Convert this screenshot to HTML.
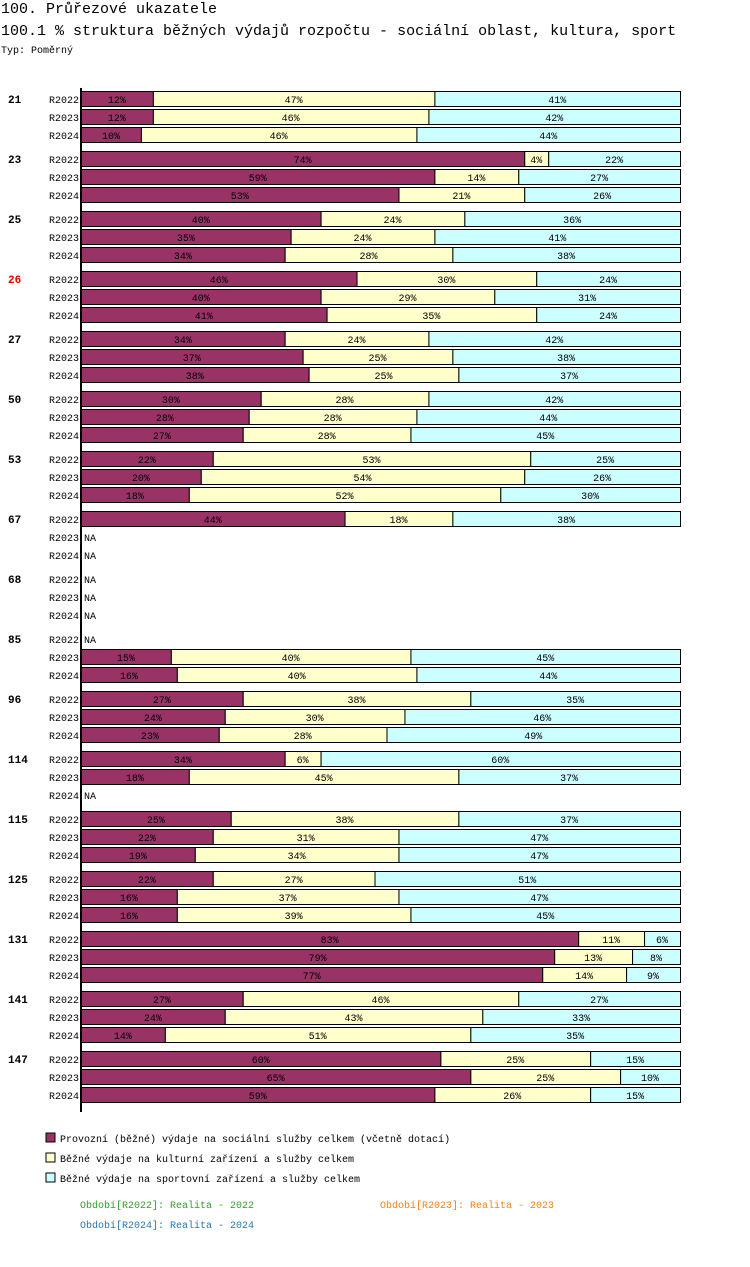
<!DOCTYPE html>
<html><head><meta charset="utf-8"><style>
body{margin:0;background:#fff;width:750px;height:1262px;overflow:hidden;font-family:"Liberation Mono",monospace}
svg text{font-family:"Liberation Mono","DejaVu Sans Mono",monospace}
</style></head><body>
<svg id="c" width="750" height="1262" xmlns="http://www.w3.org/2000/svg">
<text x="1" y="13" font-size="15">100. Průřezové ukazatele</text>
<text x="1" y="35" font-size="15">100.1 % struktura běžných výdajů rozpočtu - sociální oblast, kultura, sport</text>
<text x="1" y="53" font-size="10">Typ: Poměrný</text>
<line x1="81" y1="88" x2="81" y2="1112" stroke="#000" stroke-width="2"/>
<g id="bars"></g>
<rect x="46" y="1133" width="9" height="9" fill="#993366" stroke="#000"/>
<text x="60" y="1142" font-size="10">Provozní (běžné) výdaje na sociální služby celkem (včetně dotací)</text>
<rect x="46" y="1153" width="9" height="9" fill="#FFFFCC" stroke="#000"/>
<text x="60" y="1162" font-size="10">Běžné výdaje na kulturní zařízení a služby celkem</text>
<rect x="46" y="1173" width="9" height="9" fill="#CCFFFF" stroke="#000"/>
<text x="60" y="1182" font-size="10">Běžné výdaje na sportovní zařízení a služby celkem</text>
<text x="80" y="1208" font-size="10" fill="#2ca02c">Období[R2022]: Realita - 2022</text>
<text x="380" y="1208" font-size="10" fill="#ff7f0e">Období[R2023]: Realita - 2023</text>
<text x="80" y="1228" font-size="10" fill="#1f77b4">Období[R2024]: Realita - 2024</text>
</svg>
<script>
const groups=["21","23","25","26","27","50","53","67","68","85","96","114","115","125","131","141","147"];
const periods=["R2022","R2023","R2024"];
const social=[[12,12,10],[74,59,53],[40,35,34],[46,40,41],[34,37,38],[30,28,27],[22,20,18],[44,null,null],[null,null,null],[null,15,16],[27,24,23],[34,18,null],[25,22,19],[22,16,16],[83,79,77],[27,24,14],[60,65,59]];
const culture=[[47,46,46],[4,14,21],[24,24,28],[30,29,35],[24,25,25],[28,28,28],[53,54,52],[18,null,null],[null,null,null],[null,40,40],[38,30,28],[6,45,null],[38,31,34],[27,37,39],[11,13,14],[46,43,51],[25,25,26]];
const sport=[[41,42,44],[22,27,26],[36,41,38],[24,31,24],[42,38,37],[42,44,45],[25,26,30],[38,null,null],[null,null,null],[null,45,44],[35,46,49],[60,37,null],[37,47,47],[51,47,45],[6,8,9],[27,33,35],[15,10,15]];
const colors=["#993366","#FFFFCC","#CCFFFF"];
const X0=81,W=599;
const xs=v=>X0+W*v/100;
const NS="http://www.w3.org/2000/svg";
const g=document.getElementById('bars');
function mk(t,a){const e=document.createElementNS(NS,t);for(const k in a)e.setAttribute(k,a[k]);return e;}
groups.forEach((gn,gi)=>{
  const gy=99+gi*60;
  const gl=mk('text',{x:8,y:gy+4,'font-size':11,'font-weight':'bold',fill:gn==="26"?"#dd0000":"#000"});
  
  
  gl.textContent=gn;g.appendChild(gl);
  periods.forEach((p,pi)=>{
    const cy=gy+pi*18;
    const pl=mk('text',{x:79,y:cy+4,'font-size':10,'text-anchor':'end'});
    
    
    pl.textContent=p;g.appendChild(pl);
    const vals=[social[gi][pi],culture[gi][pi],sport[gi][pi]];
    if(vals[0]===null){
      const na=mk('text',{x:84,y:cy+4,'font-size':10});
      
      
      na.textContent="NA";g.appendChild(na);return;
    }
    let cum=0;
    vals.forEach((v,si)=>{
      const x1=xs(cum),x2=xs(cum+v);cum+=v;
      const r=mk('rect',{x:x1+0.5,y:cy-7.5,width:Math.max(0,x2-x1),height:15,fill:colors[si],stroke:"#000","stroke-width":1});
      
      
      g.appendChild(r);
      const t=mk('text',{x:(x1+x2)/2,y:cy+4,'font-size':10,'text-anchor':'middle'});
      
      
      t.textContent=v+"%";g.appendChild(t);
    });
  });
});
</script>
</body></html>
